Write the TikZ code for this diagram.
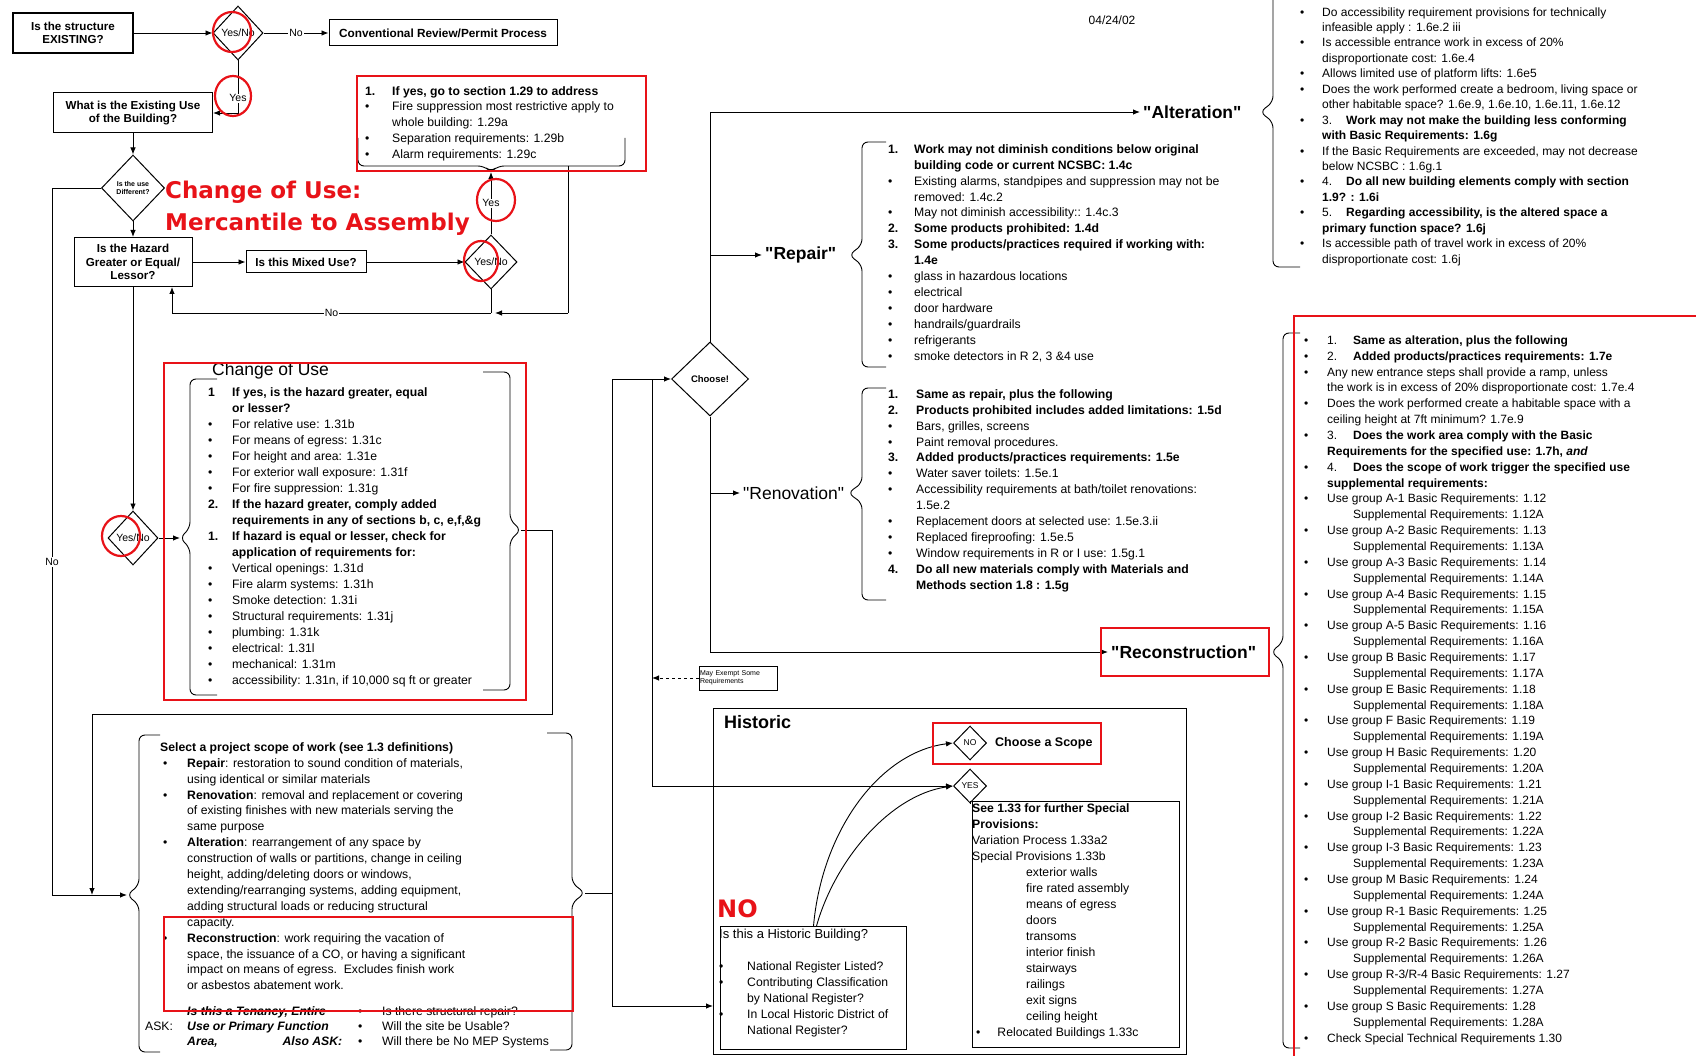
\documentclass[tikz,border=0pt]{standalone}
\usepackage{fontspec}
\setmainfont{Liberation Sans}
\newfontfamily\notefont{DejaVu Sans}
\usetikzlibrary{arrows.meta, positioning, shapes.geometric}
\definecolor{annotred}{RGB}{232,18,24}

\tikzset{
  box/.style={draw, line width=1pt, align=center, inner sep=1pt, font=\fontsize{11.6}{13.5}\selectfont\bfseries},
  decision/.style={diamond, draw, line width=1pt, inner sep=0pt, align=center, font=\fontsize{10.5}{11}\selectfont},
  flow/.style={line width=0.9pt, -{Latex[length=7pt,width=5.5pt]}},
  link/.style={line width=0.9pt},
  lbl/.style={fill=white, inner sep=1pt, font=\fontsize{10.5}{12}\selectfont},
  list/.style={anchor=north west, inner sep=0pt, font=\fontsize{12.2}{15.9}\selectfont},
  scopelabel/.style={anchor=west, inner sep=3pt, font=\fontsize{17.5}{20}\selectfont\bfseries},
  note/.style={anchor=north west, inner sep=0pt, align=left, text=annotred, font=\notefont\fontsize{23}{32}\selectfont\bfseries},
  hl/.style={draw=annotred, line width=2.2pt},
  brace line/.style={line width=0.9pt, rounded corners=6pt},
}

\begin{document}
\begin{tikzpicture}[x=1pt,y=-1pt]
\useasboundingbox (0,0) rectangle (1696,1056);
\fill[white] (0,0) rectangle (1696,1056);

% Date
\node[font=\fontsize{12}{13}\selectfont] (date) at (1112,20) {04/24/02};

% Top left decisions
\node[box, line width=1.8pt, minimum width=120, minimum height=40] (exist) at (73,33) {Is the structure\\EXISTING?};
\node[decision, minimum width=50, minimum height=54] (yn1) at (238,33) {Yes/No};
\node[box, font=\fontsize{11.8}{13}\selectfont\bfseries, minimum width=228, minimum height=26] (conv) at (443,33) {Conventional Review/Permit Process};
\node[box, minimum width=159, minimum height=40] (use) at (133,113) {What is the Existing Use\\of the Building?};
\node[decision, font=\fontsize{7}{8}\selectfont\bfseries, minimum width=63, minimum height=66] (diff) at (133,188) {Is the use\\Different?};
\node[box, minimum width=118, minimum height=49] (hazard) at (133,262) {Is the Hazard\\Greater or Equal/\\Lessor?};
\node[box, minimum width=120, minimum height=22] (mixed) at (306,262) {Is this Mixed Use?};
\node[decision, minimum width=52, minimum height=54] (yn2) at (491,262) {Yes/No};
\node[decision, minimum width=50, minimum height=54] (yn4) at (133,538) {Yes/No};

\draw[flow] (exist) -- (yn1);
\draw[flow] (yn1) -- node[lbl]{No} (conv);
\draw[flow] (yn1.south) |- node[lbl, pos=0.36]{Yes} (use.east);
\draw[flow] (use) -- (diff);
\draw[flow] (diff) -- (hazard);
\draw[flow] (hazard) -- (mixed);
\draw[flow] (mixed) -- (yn2);
\draw[flow] (hazard) -- (yn4);

% Mixed use box
\node[list, font=\fontsize{12.2}{15.75}\selectfont] (fire) at (365,84) {\begin{tabular}{@{}p{27pt}@{}l@{}}
\textbf{1.} & \textbf{If yes, go to section 1.29 to address}\\
\textbullet & Fire suppression most restrictive apply to\\
 & whole building: 1.29a\\
\textbullet & Separation requirements: 1.29b\\
\textbullet & Alarm requirements: 1.29c
\end{tabular}};
\draw[brace line] (358,138) -- (358,166) -- (484,166) -- (491,172) -- (498,166) -- (625,166) -- (625,138);
\coordinate (firetip) at (491,172);
\coordinate (firedown) at (568,166);
\coordinate (nocorner) at (568,313);
\coordinate (noleft) at (172,313);
\draw[flow] (yn2.north) -- node[lbl]{Yes} (firetip);
\draw[link] (firedown) -- (nocorner);
\draw[link] (yn2.south) -- (yn2.south |- nocorner);
\draw[flow] (nocorner) -- ([xshift=4pt]yn2.south |- nocorner);
\draw[flow] (yn2.south |- nocorner) -- node[lbl]{No} (noleft) -- (noleft |- hazard.south);

% Change of use box
\node[anchor=west, inner sep=0pt, font=\fontsize{17.5}{20}\selectfont] (coutitle) at (212,371) {Change of Use};
\node[list, font=\fontsize{12.2}{16}\selectfont] (cou) at (208,385) {\begin{tabular}{@{}p{24pt}@{}l@{}}
\textbf{1} & \textbf{If yes, is the hazard greater, equal}\\
 & \textbf{or lesser?}\\
\textbullet & For relative use: 1.31b\\
\textbullet & For means of egress: 1.31c\\
\textbullet & For height and area: 1.31e\\
\textbullet & For exterior wall exposure: 1.31f\\
\textbullet & For fire suppression: 1.31g\\
\textbf{2.} & \textbf{If the hazard greater, comply added}\\
 & \textbf{requirements in any of sections b, c, e,f,\&g}\\
\textbf{1.} & \textbf{If hazard is equal or lesser, check for}\\
 & \textbf{application of requirements for:}\\
\textbullet & Vertical openings: 1.31d\\
\textbullet & Fire alarm systems: 1.31h\\
\textbullet & Smoke detection: 1.31i\\
\textbullet & Structural requirements: 1.31j\\
\textbullet & plumbing: 1.31k\\
\textbullet & electrical: 1.31l\\
\textbullet & mechanical: 1.31m\\
\textbullet & accessibility: 1.31n, if 10,000 sq ft or greater
\end{tabular}};
\draw[brace line] (217,379) -- (190,379) -- (190,528) -- (180,538) -- (190,548) -- (190,695) -- (217,695);
\draw[brace line] (483,372) -- (510,372) -- (510,520) -- (521,530) -- (510,540) -- (510,690) -- (483,690);
\coordinate (couin) at (180,538);
\coordinate (couout) at (521,530);
\coordinate (loopA) at (552,714);
\coordinate (seljoin) at (92,895);
\coordinate (leftrail) at (52,895);
\coordinate (selin) at (127,895);
\draw[flow] (yn4.east) -- (couin);
\draw[flow] (couout) -| (loopA) -| (seljoin);
\draw[flow] (diff.west) -| (leftrail) -- (selin);
\node[lbl] (nolabel) at (52,562) {No};

% Scope of work box
\node[list] (select) at (160,740) {\begin{tabular}{@{}p{27pt}@{}l@{}}
\multicolumn{2}{@{}l@{}}{\textbf{Select a project scope of work (see 1.3 definitions)}}\\
\hspace*{3pt}\textbullet & \textbf{Repair}: restoration to sound condition of materials,\\
 & using identical or similar materials\\
\hspace*{3pt}\textbullet & \textbf{Renovation}: removal and replacement or covering\\
 & of existing finishes with new materials serving the\\
 & same purpose\\
\hspace*{3pt}\textbullet & \textbf{Alteration}: rearrangement of any space by\\
 & construction of walls or partitions, change in ceiling\\
 & height, adding/deleting doors or windows,\\
 & extending/rearranging systems, adding equipment,\\
 & adding structural loads or reducing structural\\
 & capacity.\\
\hspace*{3pt}\textbullet & \textbf{Reconstruction}: work requiring the vacation of\\
 & space, the issuance of a CO, or having a significant\\
 & impact on means of egress.\ \ Excludes finish work\\
 & or asbestos abatement work.
\end{tabular}};
\node[list, font=\fontsize{12.2}{15}\selectfont] (ask) at (145,1005) {\begin{tabular}{@{}p{42pt}@{}p{171pt}@{}p{24pt}@{}l@{}}
 & \textbf{\textit{Is this a Tenancy, Entire}} & \textbullet & Is there structural repair?\\
ASK: & \textbf{\textit{Use or Primary Function}} & \textbullet & Will the site be Usable?\\
 & \textbf{\textit{Area,}}\hfill\textbf{\textit{Also ASK:}}\hspace*{16pt} & \textbullet & Will there be No MEP Systems
\end{tabular}};
\draw[brace line] (160,735) -- (139,735) -- (139,885) -- (127,895) -- (139,905) -- (139,1052) -- (160,1052);
\draw[brace line] (547,733) -- (572,733) -- (572,883) -- (585,893) -- (572,903) -- (572,1050) -- (550,1050);

% Choose a scope
\node[decision, font=\fontsize{9.5}{11}\selectfont\bfseries, minimum width=77, minimum height=74] (choose) at (710,379) {Choose!};
\coordinate (selout) at (585,893);
\coordinate (rail) at (612,893);
\coordinate (split) at (652,379);
\coordinate (histin) at (713,1006);
\draw[link] (selout) -- (rail);
\draw[flow] (rail) |- (choose.west);
\draw[flow] (rail) |- (histin);
\node[draw, line width=0.8pt, text width=76, align=left, inner sep=1pt, minimum height=24, font=\fontsize{7}{7.5}\selectfont] (exempt) at (738,678) {May Exempt Some\\Requirements};
\draw[flow, dashed] (exempt.west) -- (exempt.west -| split);

\node[scopelabel] (alt) at (1140,112) {\textquotedbl Alteration\textquotedbl};
\node[scopelabel] (rep) at (762,255) {\textquotedbl Repair\textquotedbl};
\node[scopelabel, font=\fontsize{17.5}{20}\selectfont] (ren) at (740,493) {\textquotedbl Renovation\textquotedbl};
\node[scopelabel] (recon) at (1108,652) {\textquotedbl Reconstruction\textquotedbl};
\draw[flow] (choose.north) |- (alt.west);
\draw[flow] (choose.north |- rep.west) -- (rep.west);
\draw[flow] (choose.south |- ren.west) -- (ren.west);
\draw[flow] (choose.south) |- (recon.west);

% Repair
\draw[brace line] (886,142) -- (862,142) -- (862,245) -- (849,255) -- (862,265) -- (862,367) -- (886,367);
\node[list] (replist) at (888,142) {\begin{tabular}{@{}p{26pt}@{}l@{}}
\textbf{1.} & \textbf{Work may not diminish conditions below original}\\
 & \textbf{building code or current NCSBC: 1.4c}\\
\textbullet & Existing alarms, standpipes and suppression may not be\\
 & removed: 1.4c.2\\
\textbullet & May not diminish accessibility:: 1.4c.3\\
\textbf{2.} & \textbf{Some products prohibited: 1.4d}\\
\textbf{3.} & \textbf{Some products/practices required if working with:}\\
 & \textbf{1.4e}\\
\textbullet & glass in hazardous locations\\
\textbullet & electrical\\
\textbullet & door hardware\\
\textbullet & handrails/guardrails\\
\textbullet & refrigerants\\
\textbullet & smoke detectors in R 2, 3 \&4 use
\end{tabular}};

% Renovation
\draw[brace line] (886,388) -- (862,388) -- (862,483) -- (848,493) -- (862,503) -- (862,600) -- (886,600);
\node[list] (renlist) at (888,387) {\begin{tabular}{@{}p{28pt}@{}l@{}}
\textbf{1.} & \textbf{Same as repair, plus the following}\\
\textbf{2.} & \textbf{Products prohibited includes added limitations: 1.5d}\\
\textbullet & Bars, grilles, screens\\
\textbullet & Paint removal procedures.\\
\textbf{3.} & \textbf{Added products/practices requirements: 1.5e}\\
\textbullet & Water saver toilets: 1.5e.1\\
\textbullet & Accessibility requirements at bath/toilet renovations:\\
 & 1.5e.2\\
\textbullet & Replacement doors at selected use: 1.5e.3.ii\\
\textbullet & Replaced fireproofing: 1.5e.5\\
\textbullet & Window requirements in R or I use: 1.5g.1\\
\textbf{4.} & \textbf{Do all new materials comply with Materials and}\\
 & \textbf{Methods section 1.8 : 1.5g}
\end{tabular}};

% Alteration
\draw[brace line] (1273,-20) -- (1273,102) -- (1260,112) -- (1273,122) -- (1273,267) -- (1300,267);
\node[list, font=\fontsize{12}{15.45}\selectfont] (altlist) at (1300,5) {\begin{tabular}{@{}p{22pt}@{}l@{}}
\textbullet & Do accessibility requirement provisions for technically\\
 & infeasible apply : 1.6e.2 iii\\
\textbullet & Is accessible entrance work in excess of 20\%\\
 & disproportionate cost: 1.6e.4\\
\textbullet & Allows limited use of platform lifts: 1.6e5\\
\textbullet & Does the work performed create a bedroom, living space or\\
 & other habitable space? 1.6e.9, 1.6e.10, 1.6e.11, 1.6e.12\\
\textbullet & 3.\hspace{14pt}\textbf{Work may not make the building less conforming}\\
 & \textbf{with Basic Requirements: 1.6g}\\
\textbullet & If the Basic Requirements are exceeded, may not decrease\\
 & below NCSBC : 1.6g.1\\
\textbullet & 4.\hspace{14pt}\textbf{Do all new building elements comply with section}\\
 & \textbf{1.9? : 1.6i}\\
\textbullet & 5.\hspace{14pt}\textbf{Regarding accessibility, is the altered space a}\\
 & \textbf{primary function space? 1.6j}\\
\textbullet & Is accessible path of travel work in excess of 20\%\\
 & disproportionate cost: 1.6j
\end{tabular}};

% Reconstruction
\draw[brace line] (1300,333) -- (1283,333) -- (1283,642) -- (1271,652) -- (1283,662) -- (1283,1048) -- (1300,1048);
\node[list, font=\fontsize{12}{15.86}\selectfont] (reclist) at (1304,333) {\begin{tabular}{@{}p{23pt}@{}l@{}}
\textbullet & 1.\hspace{16pt}\textbf{Same as alteration, plus the following}\\
\textbullet & 2.\hspace{16pt}\textbf{Added products/practices requirements: 1.7e}\\
\textbullet & Any new entrance steps shall provide a ramp, unless\\
 & the work is in excess of 20\% disproportionate cost: 1.7e.4\\
\textbullet & Does the work performed create a habitable space with a\\
 & ceiling height at 7ft minimum? 1.7e.9\\
\textbullet & 3.\hspace{16pt}\textbf{Does the work area comply with the Basic}\\
 & \textbf{Requirements for the specified use: 1.7h, \textit{and}}\\
\textbullet & 4.\hspace{16pt}\textbf{Does the scope of work trigger the specified use}\\
 & \textbf{supplemental requirements:}\\
\textbullet & Use group A-1 Basic Requirements: 1.12\\
 & \hspace*{26pt}Supplemental Requirements: 1.12A\\
\textbullet & Use group A-2 Basic Requirements: 1.13\\
 & \hspace*{26pt}Supplemental Requirements: 1.13A\\
\textbullet & Use group A-3 Basic Requirements: 1.14\\
 & \hspace*{26pt}Supplemental Requirements: 1.14A\\
\textbullet & Use group A-4 Basic Requirements: 1.15\\
 & \hspace*{26pt}Supplemental Requirements: 1.15A\\
\textbullet & Use group A-5 Basic Requirements: 1.16\\
 & \hspace*{26pt}Supplemental Requirements: 1.16A\\
\textbullet & Use group B Basic Requirements: 1.17\\
 & \hspace*{26pt}Supplemental Requirements: 1.17A\\
\textbullet & Use group E Basic Requirements: 1.18\\
 & \hspace*{26pt}Supplemental Requirements: 1.18A\\
\textbullet & Use group F Basic Requirements: 1.19\\
 & \hspace*{26pt}Supplemental Requirements: 1.19A\\
\textbullet & Use group H Basic Requirements: 1.20\\
 & \hspace*{26pt}Supplemental Requirements: 1.20A\\
\textbullet & Use group I-1 Basic Requirements: 1.21\\
 & \hspace*{26pt}Supplemental Requirements: 1.21A\\
\textbullet & Use group I-2 Basic Requirements: 1.22\\
 & \hspace*{26pt}Supplemental Requirements: 1.22A\\
\textbullet & Use group I-3 Basic Requirements: 1.23\\
 & \hspace*{26pt}Supplemental Requirements: 1.23A\\
\textbullet & Use group M Basic Requirements: 1.24\\
 & \hspace*{26pt}Supplemental Requirements: 1.24A\\
\textbullet & Use group R-1 Basic Requirements: 1.25\\
 & \hspace*{26pt}Supplemental Requirements: 1.25A\\
\textbullet & Use group R-2 Basic Requirements: 1.26\\
 & \hspace*{26pt}Supplemental Requirements: 1.26A\\
\textbullet & Use group R-3/R-4 Basic Requirements: 1.27\\
 & \hspace*{26pt}Supplemental Requirements: 1.27A\\
\textbullet & Use group S Basic Requirements: 1.28\\
 & \hspace*{26pt}Supplemental Requirements: 1.28A\\
\textbullet & Check Special Technical Requirements 1.30
\end{tabular}};

% Historic
\node[draw, line width=1pt, anchor=north west, inner sep=0pt, minimum width=473, minimum height=346] (historic) at (713,708) {};
\node[anchor=west, inner sep=0pt, font=\fontsize{18}{20}\selectfont\bfseries] (histtitle) at (724,722) {Historic};
\node[decision, font=\fontsize{8.5}{9}\selectfont, minimum width=33, minimum height=34] (nod) at (970,743) {NO};
\node[decision, font=\fontsize{8.5}{9}\selectfont, minimum width=33, minimum height=34] (yesd) at (970,786) {YES};
\node[anchor=west, inner sep=0pt, font=\fontsize{12.5}{14}\selectfont\bfseries] (scopechoice) at (995,743) {Choose a Scope};
\node[draw, line width=1pt, anchor=north west, inner sep=0pt, minimum width=207, minimum height=246] (special) at (972,801) {};
\node[list, font=\fontsize{12.2}{16}\selectfont] (speciallist) at (972,801) {\begin{tabular}{@{}p{54pt}@{}l@{}}
\multicolumn{2}{@{}l@{}}{\textbf{See 1.33 for further Special}}\\
\multicolumn{2}{@{}l@{}}{\textbf{Provisions:}}\\
\multicolumn{2}{@{}l@{}}{Variation Process 1.33a2}\\
\multicolumn{2}{@{}l@{}}{Special Provisions 1.33b}\\
 & exterior walls\\
 & fire rated assembly\\
 & means of egress\\
 & doors\\
 & transoms\\
 & interior finish\\
 & stairways\\
 & railings\\
 & exit signs\\
 & ceiling height\\
\multicolumn{2}{@{}l@{}}{\hspace*{4pt}\textbullet\hspace{17pt}Relocated Buildings 1.33c}
\end{tabular}};
\node[draw, line width=1pt, anchor=north west, inner sep=0pt, minimum width=186, minimum height=123] (hb) at (720,926) {};
\node[list, font=\fontsize{12.2}{16}\selectfont] (hblist) at (719,927) {\begin{tabular}{@{}p{28pt}@{}l@{}}
\multicolumn{2}{@{}l@{}}{\fontsize{13}{16}\selectfont Is this a Historic Building?}\\
 & \\
\textbullet & National Register Listed?\\
\textbullet & Contributing Classification\\
 & by National Register?\\
\textbullet & In Local Historic District of\\
 & National Register?
\end{tabular}};
\draw[link] (yesd.south) -- (special.north -| yesd.south);
\draw[flow] (split) |- (yesd.west);
\draw[flow] (hb.north) .. controls (822,830) and (880,752) .. (nod.west);
\draw[flow] ([xshift=3pt]hb.north) .. controls (835,860) and (890,795) .. (yesd.west);

% Annotations
\node[note] (cunote) at (165,181) {Change of Use:\\Mercantile to Assembly};
\node[note, font=\notefont\fontsize{24}{28}\selectfont\bfseries] (nonote) at (717,899) {NO};
\draw[hl] (357,76) rectangle (646,171);
\draw[hl] (164,363) rectangle (526,700);
\draw[hl] (164,917) rectangle (573,1011);
\draw[hl] (1101,628) rectangle (1269,676);
\draw[hl] (933,723) rectangle (1101,764);
\draw[hl] (1294,316) rectangle (1720,1080);
\draw[hl] (232,32) ellipse [x radius=19, y radius=20];
\draw[hl] (233,96) ellipse [x radius=18, y radius=20];
\draw[hl] (496,200) ellipse [x radius=19, y radius=21];
\draw[hl] (481,261) ellipse [x radius=17, y radius=20];
\draw[hl] (121,536) ellipse [x radius=19, y radius=20];
\end{tikzpicture}
\end{document}
